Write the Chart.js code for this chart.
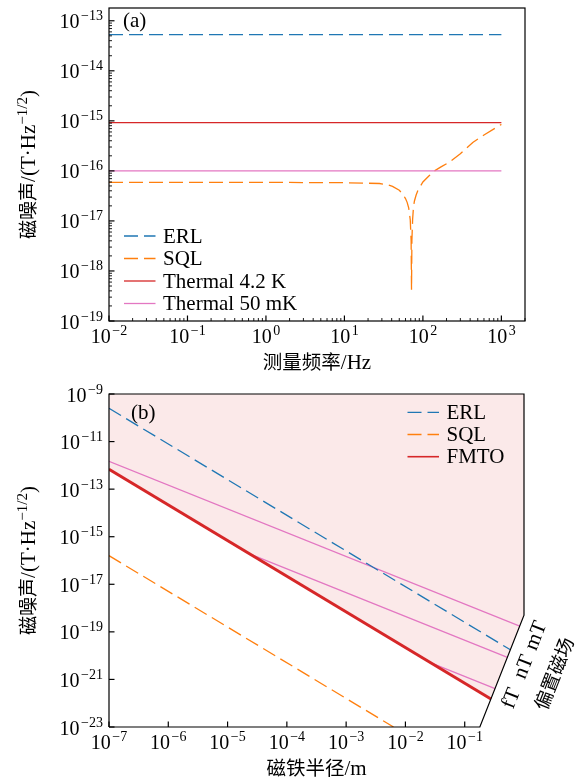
<!DOCTYPE html>
<html>
<head>
<meta charset="utf-8">
<script src="https://cdn.jsdelivr.net/npm/chart.js@4.4.1/dist/chart.umd.min.js"></script>
<style>
  html, body { margin: 0; padding: 0; background: #fff; }
  #wrap { position: relative; width: 577px; height: 782px; }
  canvas { position: absolute; left: 0; }
  #topChart { top: 0; }
  #bottomChart { top: 378px; }
</style>
</head>
<body>
<div id="wrap">
  <canvas id="topChart" width="577" height="378"></canvas>
  <canvas id="bottomChart" width="577" height="404"></canvas>
</div>
<script>
// ---- (a) noise vs. measurement frequency ----
const freqFlat = [0.01, 1000];
const erlTop = [5.3e-14, 5.3e-14];
const thermal42 = [9.2e-16, 9.2e-16];
const thermal50 = [1e-16, 1e-16];
const sqlFreq = [0.01, 1, 10, 28, 35, 41, 50, 55, 60, 63, 66, 69, 70.8, 71.6, 72.4, 74, 76, 78, 82, 86, 91, 100, 120, 140, 170, 218, 300, 432, 600, 1000];
const sqlTop = [5.9e-17, 5.9e-17, 5.8e-17, 5.6e-17, 5.3e-17, 4.9e-17, 4.1e-17, 3.5e-17, 2.8e-17, 2.35e-17, 1.8e-17, 1.05e-17, 4e-18, 4.2e-19, 4e-18, 1.1e-17, 1.95e-17, 2.5e-17, 3.3e-17, 4e-17, 4.7e-17, 6e-17, 8e-17, 1e-16, 1.2e-16, 1.5e-16, 2.2e-16, 3.7e-16, 5.2e-16, 8.5e-16];
const topXExp = [-2, -1, 0, 1, 2, 3];
const topYExp = [-19, -18, -17, -16, -15, -14, -13];

// ---- (b) noise vs. magnet radius ----
const radiusErl = [1e-7, 0.59];
const noiseErl = [2.5e-10, 1.76e-20];
const radiusSql = [1e-7, 6.3e-3];
const noiseSql = [1.6e-16, 1e-23];
const radiusFmto = [1e-7, 0.277];
const noiseFmto = [6.9e-13, 1.5e-22];
const radiusBiasFt = [1e-7, 0.0263, 0.325];
const noiseBiasFt = [6.9e-13, 5.1e-21, 4.1e-22];
const radiusBiasNt = [1e-7, 2.24e-5, 0.525];
const noiseBiasNt = [6.9e-13, 2.0e-16, 8.5e-21];
const radiusBiasMt = [1e-7, 0.846];
const noiseBiasMt = [1.48e-12, 1.75e-19];
const biasLabels = ['fT', 'nT', 'mT'];
const edgeRadius = [1e-7, 0.18, 1, 1, 1e-7, 1e-7];
const edgeNoise = [1e-23, 1e-23, 5e-19, 1e-9, 1e-9, 1e-23];
const botXExp = [-7, -6, -5, -4, -3, -2, -1];
const botYExp = [-23, -21, -19, -17, -15, -13, -11, -9];

const SERIF = '"Liberation Serif", "DejaVu Serif", serif';
const CJK = '"Noto Sans CJK SC", sans-serif';
const DASH = [14, 6];

function pts(xs, ys) {
  return xs.map((v, i) => ({ x: v, y: ys[i] }));
}

function drawPow(ctx, exp, x, y, align) {
  const sup = exp < 0 ? '\u2212' + (-exp) : String(exp);
  ctx.font = '20px ' + SERIF;
  const wb = ctx.measureText('10').width;
  ctx.font = '14px ' + SERIF;
  const ws = ctx.measureText(sup).width;
  const x0 = align === 'right' ? x - wb - ws - 1.5 : x - (wb + ws + 1.5) / 2;
  ctx.textAlign = 'left';
  ctx.textBaseline = 'alphabetic';
  ctx.fillStyle = '#000';
  ctx.font = '20px ' + SERIF;
  ctx.fillText('10', x0, y);
  ctx.font = '14px ' + SERIF;
  ctx.fillText(sup, x0 + wb + 1.5, y - 8);
}

function drawRuns(ctx, runs, cx, cy, rot) {
  ctx.save();
  ctx.translate(cx, cy);
  if (rot) ctx.rotate(rot);
  let total = 0;
  const widths = runs.map(r => { ctx.font = r.font; const w = ctx.measureText(r.text).width; total += w; return w; });
  let xx = -total / 2;
  ctx.textAlign = 'left';
  ctx.textBaseline = 'alphabetic';
  ctx.fillStyle = '#000';
  runs.forEach((r, i) => { ctx.font = r.font; ctx.fillText(r.text, xx, r.dy || 0); xx += widths[i]; });
  ctx.restore();
}

function seg(ctx, x1, y1, x2, y2) {
  ctx.beginPath();
  ctx.moveTo(x1, y1);
  ctx.lineTo(x2, y2);
  ctx.stroke();
}

function yLabelRuns() {
  return [
    { text: '磁噪声', font: '19px ' + CJK },
    { text: '/(T·Hz', font: '21px ' + SERIF },
    { text: '\u22121/2', font: '15px ' + SERIF, dy: -8.5 },
    { text: ')', font: '21px ' + SERIF }
  ];
}

function decoPlugin(cfg) {
  return {
    id: 'deco',
    afterDatasetsDraw(chart) {
      const { ctx, chartArea: a, scales: { x, y } } = chart;
      ctx.save();
      ctx.strokeStyle = '#000';
      ctx.lineWidth = 1.2;
      ctx.setLineDash([]);

      // frame
      if (cfg.box) ctx.strokeRect(a.left, a.top, a.right - a.left, a.bottom - a.top);

      // ticks and tick labels
      cfg.xExp.forEach(e => {
        const p = x.getPixelForValue(10 ** e);
        seg(ctx, p, a.bottom, p, a.bottom - 5.5);
        drawPow(ctx, e, p, a.bottom + 21.5, 'center');
      });
      cfg.yExp.forEach(e => {
        const p = y.getPixelForValue(10 ** e);
        seg(ctx, a.left, p, a.left + 5.5, p);
        drawPow(ctx, e, a.left - 6, p + 7.5, 'right');
      });
      if (cfg.minor) {
        ctx.lineWidth = 0.9;
        [[x, true], [y, false]].forEach(([s, isX]) => {
          for (let e = Math.floor(Math.log10(s.min)); e <= Math.ceil(Math.log10(s.max)); e++) {
            for (let m = 2; m <= 9; m++) {
              const v = m * 10 ** e;
              if (v < s.min || v > s.max) continue;
              const p = s.getPixelForValue(v);
              if (isX) seg(ctx, p, a.bottom, p, a.bottom - 3);
              else seg(ctx, a.left, p, a.left + 3, p);
            }
          }
        });
      }

      // axis labels
      drawRuns(ctx, yLabelRuns(), 35, (a.top + a.bottom) / 2, -Math.PI / 2);
      drawRuns(ctx, cfg.xLabel, (a.left + a.right) / 2, a.bottom + 48, 0);

      // panel tag
      ctx.fillStyle = '#000';
      ctx.font = '21px ' + SERIF;
      ctx.textAlign = 'left';
      ctx.textBaseline = 'middle';
      ctx.fillText(cfg.tag, a.left + cfg.tagDx, a.top + cfg.tagDy);

      // legend
      let row = 0;
      chart.data.datasets.forEach(ds => {
        if (!ds.label) return;
        const ly = a.top + cfg.legY + row * cfg.legDy;
        ctx.save();
        ctx.strokeStyle = ds.borderColor;
        ctx.lineWidth = Math.min(ds.borderWidth, 1.6);
        ctx.setLineDash(ds.borderDash || []);
        seg(ctx, cfg.legX, ly, cfg.legX + 31.5, ly);
        ctx.restore();
        ctx.fillStyle = '#000';
        ctx.font = '21px ' + SERIF;
        ctx.textBaseline = 'middle';
        ctx.fillText(ds.label, cfg.legX + 39, ly + 1);
        row++;
      });

      // slanted bias-field axis for (b)
      if (cfg.bias) {
        const q0 = [x.getPixelForValue(edgeRadius[1]), y.getPixelForValue(edgeNoise[1])];
        const q1 = [x.getPixelForValue(edgeRadius[2]), y.getPixelForValue(edgeNoise[2])];
        const len = Math.hypot(q1[0] - q0[0], q1[1] - q0[1]);
        const u = [(q1[0] - q0[0]) / len, (q1[1] - q0[1]) / len];
        const n = [-u[1], u[0]];
        const ang = Math.atan2(u[1], u[0]);
        const ends = [[radiusBiasFt, noiseBiasFt], [radiusBiasNt, noiseBiasNt], [radiusBiasMt, noiseBiasMt]];
        ends.forEach(([rx, ny], i) => {
          const ex = x.getPixelForValue(rx[rx.length - 1]);
          const ey = y.getPixelForValue(ny[ny.length - 1]);
          const cx = ex + 19 * n[0] - 3 * u[0];
          const cy = ey + 19 * n[1] - 3 * u[1];
          ctx.save();
          ctx.translate(cx, cy);
          ctx.rotate(ang);
          ctx.font = '21px ' + SERIF;
          ctx.textAlign = 'center';
          ctx.textBaseline = 'middle';
          ctx.fillText(biasLabels[i], 0, 0);
          ctx.restore();
        });
        const bx = q0[0] + 0.64 * len * u[0] + 49 * n[0];
        const by = q0[1] + 0.64 * len * u[1] + 49 * n[1];
        ctx.save();
        ctx.translate(bx, by);
        ctx.rotate(ang);
        ctx.font = '19px ' + CJK;
        ctx.textAlign = 'center';
        ctx.textBaseline = 'middle';
        ctx.fillText('偏置磁场', 0, 0);
        ctx.restore();
      }
      ctx.restore();
    }
  };
}

function makeChart(id, datasets, sx, sy, padding, cfg) {
  return new Chart(document.getElementById(id), {
    type: 'line',
    data: { datasets },
    options: {
      responsive: false,
      animation: false,
      devicePixelRatio: 1,
      events: [],
      layout: { padding },
      elements: { point: { radius: 0 }, line: { tension: 0, borderCapStyle: 'butt' } },
      plugins: { legend: { display: false }, tooltip: { enabled: false } },
      scales: {
        x: Object.assign({ type: 'logarithmic', display: false }, sx),
        y: Object.assign({ type: 'logarithmic', display: false }, sy)
      }
    },
    plugins: [decoPlugin(cfg)]
  });
}

// (a)
makeChart('topChart', [
  { label: 'ERL', data: pts(freqFlat, erlTop), borderColor: '#1f77b4', borderWidth: 1.3, borderDash: DASH, order: 4 },
  { label: 'SQL', data: pts(sqlFreq, sqlTop), borderColor: '#ff7f0e', borderWidth: 1.3, borderDash: DASH, order: 3 },
  { label: 'Thermal 4.2 K', data: pts(freqFlat, thermal42), borderColor: '#d62728', borderWidth: 1.3, order: 2 },
  { label: 'Thermal 50 mK', data: pts(freqFlat, thermal50), borderColor: '#e377c2', borderWidth: 1.3, order: 1 }
], { min: 0.01, max: 2000 }, { min: 1e-19, max: 1.8e-13 },
{ left: 109, right: 52, top: 8, bottom: 57 },
{
  box: true, minor: true, xExp: topXExp, yExp: topYExp,
  xLabel: [{ text: '测量频率', font: '19.5px ' + CJK }, { text: '/Hz', font: '21px ' + SERIF }],
  tag: '(a)', tagDx: 14, tagDy: 13,
  legX: 124, legY: 228, legDy: 22.5
});

// (b)
const fillPts = pts(radiusFmto, noiseFmto).concat([{ x: edgeRadius[2], y: edgeNoise[2] }]);
makeChart('bottomChart', [
  { label: 'ERL', data: pts(radiusErl, noiseErl), borderColor: '#1f77b4', borderWidth: 1.3, borderDash: DASH, order: 3 },
  { label: 'SQL', data: pts(radiusSql, noiseSql), borderColor: '#ff7f0e', borderWidth: 1.3, borderDash: DASH, order: 4 },
  { label: 'FMTO', data: pts(radiusFmto, noiseFmto), borderColor: '#d62728', borderWidth: 3, order: 2 },
  { data: pts(radiusBiasFt, noiseBiasFt), borderColor: '#e377c2', borderWidth: 1.2, order: 5 },
  { data: pts(radiusBiasNt, noiseBiasNt), borderColor: '#e377c2', borderWidth: 1.2, order: 5 },
  { data: pts(radiusBiasMt, noiseBiasMt), borderColor: '#e377c2', borderWidth: 1.2, order: 5 },
  { data: fillPts, borderWidth: 0, borderColor: 'rgba(0,0,0,0)', backgroundColor: 'rgba(214,39,40,0.1)', fill: 'end', order: 10 },
  { data: pts(edgeRadius, edgeNoise), borderColor: '#000', borderWidth: 1.2, clip: false, order: 0 }
], { min: 1e-7, max: 1 }, { min: 1e-23, max: 1e-9 },
{ left: 109, right: 53, top: 16, bottom: 55 },
{
  box: false, minor: false, xExp: botXExp, yExp: botYExp,
  xLabel: [{ text: '磁铁半径', font: '19.5px ' + CJK }, { text: '/m', font: '21px ' + SERIF }],
  tag: '(b)', tagDx: 22, tagDy: 19.5,
  legX: 407.5, legY: 18.3, legDy: 22.2, bias: true
});
</script>
</body>
</html>
